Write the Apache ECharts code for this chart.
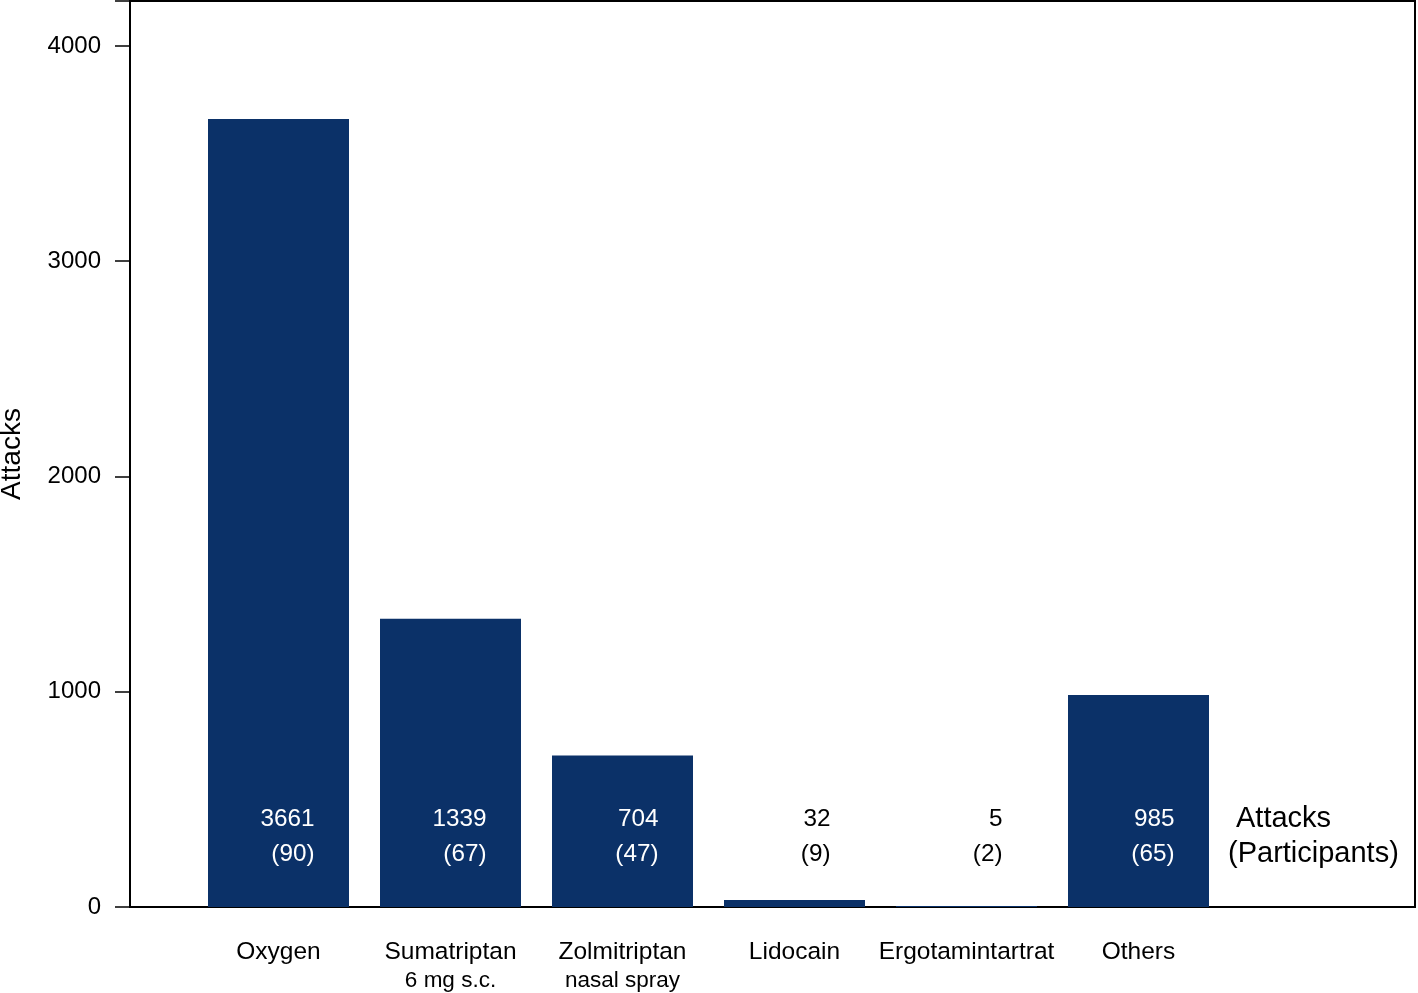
<!DOCTYPE html>
<html><head><meta charset="utf-8">
<script src="https://cdn.jsdelivr.net/npm/echarts@6/dist/echarts.min.js"></script>
<style>html,body{margin:0;padding:0;background:#fff}#c{width:1418px;height:993px}</style>
</head><body><div id="c"></div>
<script>
const categories = ['Oxygen', 'Sumatriptan', 'Zolmitriptan', 'Lidocain', 'Ergotamintartrat', 'Others'];
const subLabels = ['', '6 mg s.c.', 'nasal spray', '', '', ''];
const attacks = [3661, 1339, 704, 32, 5, 985];
const participants = [90, 67, 47, 9, 2, 65];
const yAxisName = 'Attacks';
const legendLines = ['Attacks', '(Participants)'];

const FONT = '"Liberation Sans", Arial, Helvetica, sans-serif';
const BAR_COLOR = '#0b3168';
const Y_MAX = 4209;
const LABEL_ROW = 328; // value-level where the count labels sit

const chart = echarts.init(document.getElementById('c'), null, {renderer: 'canvas'});
chart.setOption({
  animation: false,
  backgroundColor: '#ffffff',
  textStyle: {fontFamily: FONT},
  grid: [
    {left: 130, right: 3, top: 1, bottom: 86, show: true, borderColor: '#000', borderWidth: 2,
      backgroundColor: 'transparent', containLabel: false, outerBoundsMode: 'none'},
    {left: 192.5, width: 1032, top: 1, bottom: 86, containLabel: false, outerBoundsMode: 'none'}
  ],
  xAxis: [
    {gridIndex: 0, type: 'value', min: 0, max: 1, show: false},
    {gridIndex: 1, type: 'category', data: categories,
      axisLine: {show: false}, axisTick: {show: false},
      axisLabel: {
        margin: 31, interval: 0,
        formatter: (v, i) => subLabels[i] ? '{m|' + v + '}\n{s|' + subLabels[i] + '}' : '{m|' + v + '}',
        rich: {
          m: {fontFamily: FONT, fontSize: 24.5, color: '#000', lineHeight: 29},
          s: {fontFamily: FONT, fontSize: 22.5, color: '#000', lineHeight: 27}
        }
      }
    }
  ],
  yAxis: [
    {gridIndex: 0, type: 'value', min: 0, max: Y_MAX, interval: 1000,
      name: yAxisName, nameLocation: 'middle', nameGap: 104, nameRotate: 90,
      nameTextStyle: {fontFamily: FONT, fontSize: 28, color: '#000'},
      axisLine: {show: true, lineStyle: {color: '#000', width: 1.5}},
      axisTick: {show: true, length: 15, lineStyle: {color: '#000', width: 1.5}},
      axisLabel: {fontFamily: FONT, fontSize: 24, color: '#000', margin: 29,
        formatter: v => (v % 1000 === 0 ? String(v) : '')},
      splitLine: {show: false}
    },
    {gridIndex: 1, type: 'value', min: 0, max: Y_MAX, show: false}
  ],
  series: [
    {type: 'bar', xAxisIndex: 1, yAxisIndex: 1, data: attacks, barWidth: 141,
      itemStyle: {color: BAR_COLOR}},
    {type: 'scatter', xAxisIndex: 1, yAxisIndex: 1, symbolSize: 0, silent: true,
      itemStyle: {opacity: 1},
      data: attacks.map((a, i) => ({
        value: [i, LABEL_ROW],
        label: {color: a > LABEL_ROW ? '#ffffff' : '#000000'}
      })),
      label: {
        show: true, position: [36, 0], align: 'right', verticalAlign: 'middle', opacity: 1,
        fontFamily: FONT, fontSize: 24.3, lineHeight: 35,
        formatter: p => attacks[p.dataIndex] + '\n(' + participants[p.dataIndex] + ')'
      }
    }
  ],
  graphic: [
    {type: 'text', x: 1236, y: 819, style: {text: legendLines[0], font: '29px ' + FONT, fill: '#000', textVerticalAlign: 'middle', verticalAlign: 'middle'}},
    {type: 'text', x: 1228, y: 854, style: {text: legendLines[1], font: '29px ' + FONT, fill: '#000', textVerticalAlign: 'middle', verticalAlign: 'middle'}}
  ]
});
</script></body></html>
